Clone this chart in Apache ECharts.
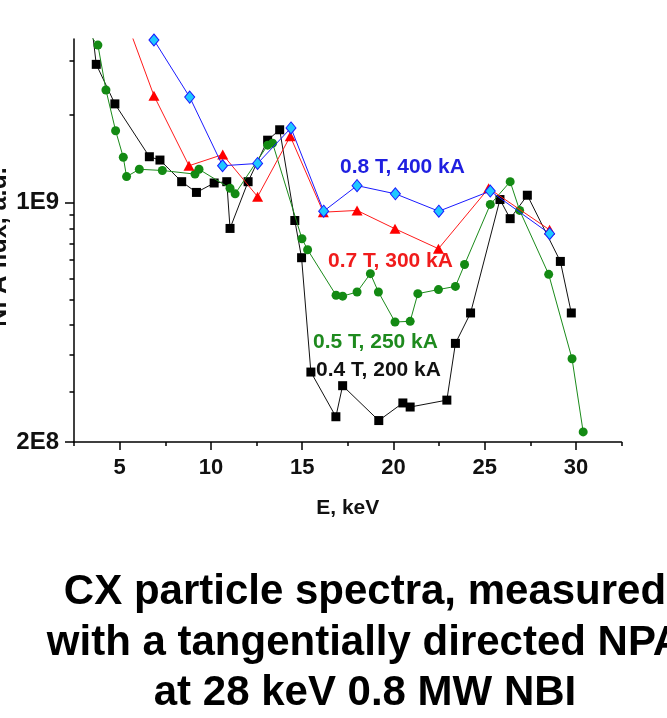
<!DOCTYPE html>
<html><head><meta charset="utf-8">
<script src="https://cdn.jsdelivr.net/npm/echarts@6/dist/echarts.min.js"></script>
<style>html,body{margin:0;padding:0;background:#fff}#c{width:667px;height:718px}</style>
</head><body><div id="c"></div>
<script>
const FONT = 'Arial, "Liberation Sans", sans-serif';

// axis ranges and ticks
const xMin = 2.5, xMax = 32.5;
const yMin = 2e8, yMax = 3e9;
const xMajorTicks = [5, 10, 15, 20, 25, 30];
const xMinorTicks = [2.5, 7.5, 12.5, 17.5, 22.5, 27.5, 32.5];
const yLabelTicks = [2e8, 1e9];
const yMinorTicks = [2.8e8, 3.6e8, 4.4e8, 5.2e8, 6.0e8, 6.8e8, 7.6e8, 8.4e8, 9.2e8, 1.8e9, 2.6e9];

// 0.4 T, 200 kA (black squares)
const energy04 = [3.5, 3.72, 4.74, 6.63, 7.21, 8.40, 9.21, 10.18, 10.87, 11.05, 12.04, 13.11, 13.77, 14.60, 14.97, 15.48, 16.85, 17.22, 19.20, 20.52, 20.92, 22.93, 23.40, 24.23, 25.84, 26.40, 27.34, 29.15, 29.75];
const flux04 = [3.18e9, 2.53e9, 1.94e9, 1.36e9, 1.33e9, 1.15e9, 1.07e9, 1.14e9, 1.15e9, 8.4e8, 1.15e9, 1.52e9, 1.63e9, 8.86e8, 6.9e8, 3.2e8, 2.37e8, 2.92e8, 2.31e8, 2.6e8, 2.53e8, 2.65e8, 3.88e8, 4.76e8, 1.02e9, 8.97e8, 1.05e9, 6.73e8, 4.76e8];

// 0.5 T, 250 kA (green circles)
const energy05 = [3.3, 3.81, 4.25, 4.78, 5.20, 5.38, 6.08, 7.34, 9.13, 9.35, 11.05, 11.33, 13.11, 13.38, 14.99, 15.30, 16.86, 17.22, 18.01, 18.74, 19.18, 20.09, 20.92, 21.34, 22.47, 23.40, 23.90, 25.31, 26.40, 26.92, 28.51, 29.79, 30.40];
const flux05 = [3.11e9, 2.88e9, 2.13e9, 1.62e9, 1.355e9, 1.19e9, 1.25e9, 1.24e9, 1.21e9, 1.25e9, 1.10e9, 1.06e9, 1.47e9, 1.49e9, 7.84e8, 7.28e8, 5.36e8, 5.33e8, 5.48e8, 6.2e8, 5.48e8, 4.48e8, 4.5e8, 5.42e8, 5.57e8, 5.69e8, 6.59e8, 9.87e8, 1.15e9, 9.48e8, 6.17e8, 3.5e8, 2.14e8];

// 0.7 T, 300 kA (red triangles)
const energy07 = [5.3, 6.88, 8.80, 10.65, 12.56, 14.35, 16.16, 18.01, 20.09, 22.47, 25.22, 28.56];
const flux07 = [3.47e9, 2.05e9, 1.28e9, 1.38e9, 1.04e9, 1.56e9, 9.37e8, 9.48e8, 8.38e8, 7.33e8, 1.10e9, 8.32e8];

// 0.8 T, 400 kA (blue/cyan diamonds)
const energy08 = [6.88, 8.84, 10.64, 12.56, 14.39, 16.18, 18.01, 20.11, 22.49, 25.31, 28.56];
const flux08 = [2.98e9, 2.03e9, 1.28e9, 1.30e9, 1.65e9, 9.43e8, 1.12e9, 1.06e9, 9.43e8, 1.08e9, 8.11e8];

const seriesNames = ['0.4 T, 200 kA', '0.5 T, 250 kA', '0.7 T, 300 kA', '0.8 T, 400 kA'];
const titleLines = ['CX particle spectra, measured', 'with a tangentially directed NPA', 'at 28 keV 0.8 MW NBI'];

function pairs(xs, ys) { return xs.map((x, i) => [x, ys[i]]); }
function fmtY(v) {
  const e = Math.floor(Math.log10(v) + 1e-9);
  const m = Math.round(v / Math.pow(10, e));
  return m + 'E' + e;
}

const chart = echarts.init(document.getElementById('c'), null, {renderer: 'canvas'});

const axisLineStyle = {color: '#000', width: 1.5};

chart.setOption({
  backgroundColor: '#fff',
  animation: false,
  grid: {left: 74, right: 45.5, top: 39, bottom: 276, outerBoundsMode: 'none', containLabel: false},
  xAxis: [{
    type: 'value', min: xMin, max: xMax, position: 'bottom',
    name: 'E, keV', nameLocation: 'middle', nameGap: 56,
    nameTextStyle: {fontFamily: FONT, fontWeight: 'bold', fontSize: 21, color: '#111'},
    axisLine: {show: true, lineStyle: axisLineStyle},
    axisTick: {show: true, inside: false, length: 8, lineStyle: {color: '#000', width: 1.5}, customValues: xMajorTicks},
    axisLabel: {show: true, margin: 15, fontFamily: FONT, fontWeight: 'bold', fontSize: 22, color: '#111', customValues: xMajorTicks},
    splitLine: {show: false}
  }, {
    type: 'value', min: xMin, max: xMax, position: 'bottom',
    axisLine: {show: false},
    axisTick: {show: true, inside: false, length: 4, lineStyle: {color: '#000', width: 1.5}, customValues: xMinorTicks},
    axisLabel: {show: false},
    splitLine: {show: false}
  }],
  yAxis: [{
    type: 'log', logBase: 10, min: yMin, max: yMax, position: 'left',
    axisLine: {show: true, lineStyle: axisLineStyle},
    axisTick: {show: true, inside: false, length: 9, lineStyle: {color: '#000', width: 1.5}, customValues: yLabelTicks},
    axisLabel: {show: true, margin: 15, fontFamily: FONT, fontWeight: 'bold', fontSize: 24, color: '#111', customValues: yLabelTicks, formatter: fmtY},
    splitLine: {show: false}
  }, {
    type: 'log', logBase: 10, min: yMin, max: yMax, position: 'left',
    axisLine: {show: false},
    axisTick: {show: true, inside: false, length: 4.5, lineStyle: {color: '#000', width: 1.5}, customValues: yMinorTicks},
    axisLabel: {show: false},
    splitLine: {show: false}
  }],
  series: [
    {name: seriesNames[0], type: 'line', data: pairs(energy04, flux04), clip: true,
     symbol: 'rect', symbolSize: 9, itemStyle: {color: '#000'}, lineStyle: {color: '#111', width: 1}, z: 2},
    {name: seriesNames[1], type: 'line', data: pairs(energy05, flux05), clip: true,
     symbol: 'circle', symbolSize: 9, itemStyle: {color: '#138a13'}, lineStyle: {color: '#1a8a1a', width: 1}, z: 3},
    {name: seriesNames[2], type: 'line', data: pairs(energy07, flux07), clip: true,
     symbol: 'triangle', symbolSize: [11, 10], itemStyle: {color: '#ff0000'}, lineStyle: {color: '#ff1a1a', width: 1}, z: 4},
    {name: seriesNames[3], type: 'line', data: pairs(energy08, flux08), clip: true,
     symbol: 'diamond', symbolSize: [10, 12], itemStyle: {color: '#1ec8ff', borderColor: '#1a1aff', borderWidth: 1}, lineStyle: {color: '#1a1aff', width: 1}, z: 5}
  ],
  graphic: [
    {type: 'text', left: 340, top: 157, style: {text: seriesNames[3], fontFamily: FONT, fontWeight: 'bold', fontSize: 21, fill: '#1f1fe0'}},
    {type: 'text', left: 328, top: 251, style: {text: seriesNames[2], fontFamily: FONT, fontWeight: 'bold', fontSize: 21, fill: '#f01c1c'}},
    {type: 'text', left: 313, top: 332, style: {text: seriesNames[1], fontFamily: FONT, fontWeight: 'bold', fontSize: 21, fill: '#1e8a1e'}},
    {type: 'text', left: 316, top: 360, style: {text: seriesNames[0], fontFamily: FONT, fontWeight: 'bold', fontSize: 21, fill: '#111'}},
    {type: 'text', x: -1, y: 247, rotation: Math.PI / 2,
     style: {text: 'NPA flux, a.u.', fontFamily: FONT, fontWeight: 'bold', fontSize: 25, fill: '#111', align: 'center', verticalAlign: 'middle'}},
    {type: 'text', x: 365, y: 592, style: {text: titleLines[0], fontFamily: FONT, fontWeight: 'bold', fontSize: 42, fill: '#000', align: 'center', verticalAlign: 'middle'}},
    {type: 'text', x: 365, y: 643, style: {text: titleLines[1], fontFamily: FONT, fontWeight: 'bold', fontSize: 42, fill: '#000', align: 'center', verticalAlign: 'middle'}},
    {type: 'text', x: 365, y: 693, style: {text: titleLines[2], fontFamily: FONT, fontWeight: 'bold', fontSize: 42, fill: '#000', align: 'center', verticalAlign: 'middle'}}
  ]
});
</script>
</body></html>
